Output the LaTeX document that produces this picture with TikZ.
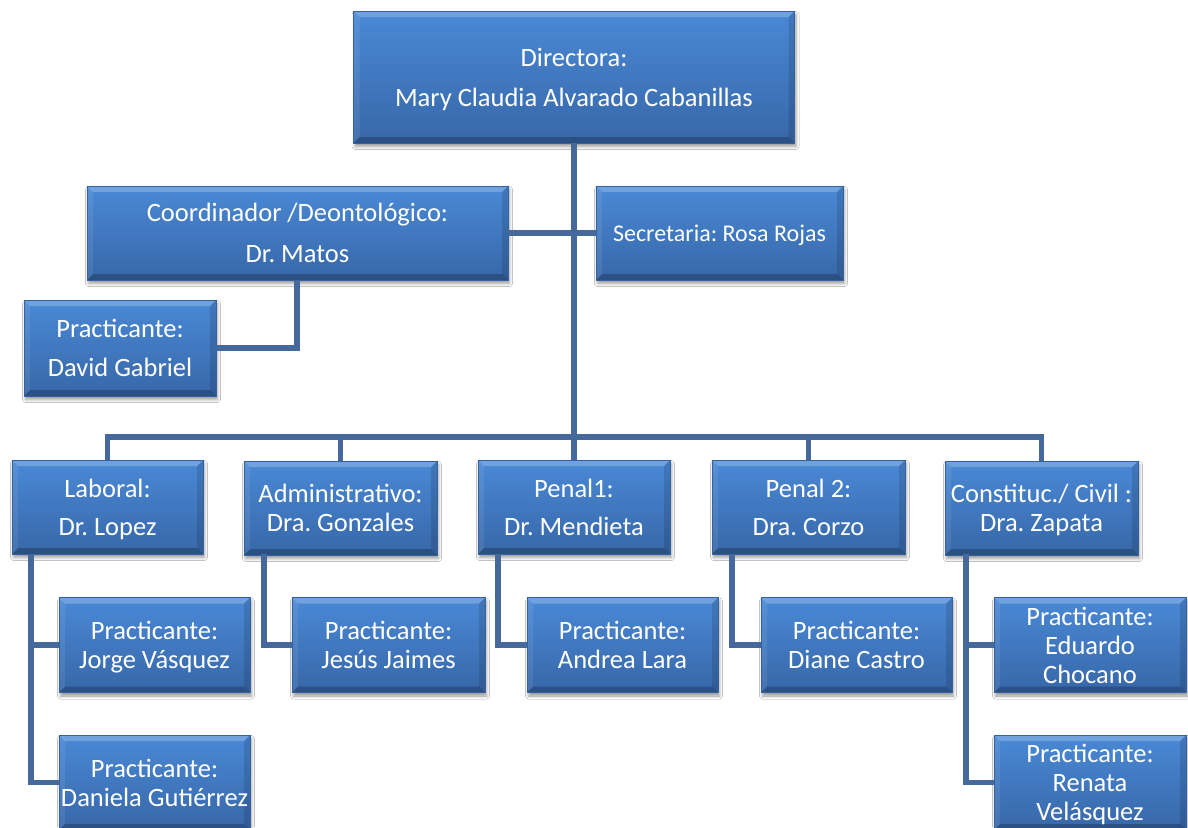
\documentclass[tikz,border=0pt]{standalone}
\usepackage{fontspec}
\setmainfont{Carlito}
\frenchspacing
\usetikzlibrary{shadows.blur,backgrounds}
\definecolor{boxtop}{HTML}{4A89D6}
\definecolor{boxbot}{HTML}{3767A8}
\definecolor{boxedge}{HTML}{34629E}
\definecolor{linec}{HTML}{45699C}
\tikzset{
  orgbox/.style={rectangle, inner sep=0pt, top color=boxtop, bottom color=boxbot,
    draw=boxedge, line width=0.6pt, text=white, align=center, text depth=0pt,
    blur shadow={shadow xshift=1.5pt, shadow yshift=-3.5pt, shadow blur radius=3pt, shadow opacity=40},
    path picture={
      \fill[white,opacity=.22] (path picture bounding box.north west) -- (path picture bounding box.north east)
        -- ([shift={(-6pt,-6pt)}]path picture bounding box.north east) -- ([shift={(6pt,-6pt)}]path picture bounding box.north west) -- cycle;
      \fill[black,opacity=.22] (path picture bounding box.south west) -- (path picture bounding box.south east)
        -- ([shift={(-6pt,6pt)}]path picture bounding box.south east) -- ([shift={(6pt,6pt)}]path picture bounding box.south west) -- cycle;
      \fill[white,opacity=.08] (path picture bounding box.north west) -- ([shift={(6pt,-6pt)}]path picture bounding box.north west)
        -- ([shift={(6pt,6pt)}]path picture bounding box.south west) -- (path picture bounding box.south west) -- cycle;
      \fill[black,opacity=.12] (path picture bounding box.north east) -- ([shift={(-6pt,-6pt)}]path picture bounding box.north east)
        -- ([shift={(-6pt,6pt)}]path picture bounding box.south east) -- (path picture bounding box.south east) -- cycle;
    }},
  widetext/.style={font=\fontsize{26.5}{39}\selectfont},
  tighttext/.style={font=\fontsize{26.5}{29}\selectfont},
  conn/.style={draw=linec, line width=5.5pt, line join=miter, line cap=butt}
}
\begin{document}
\begin{tikzpicture}[x=1pt,y=-1pt]
\fill[white] (0,0) rectangle (1188,827);
\useasboundingbox (0,0) rectangle (1188,827);
% top level
\node[orgbox, font=\fontsize{26.5}{40}\selectfont, minimum width=441pt, minimum height=132pt] (dir) at (574,77) {Directora:\\Mary Claudia Alvarado Cabanillas};
\node[orgbox, font=\fontsize{26.5}{41}\selectfont, minimum width=421pt, minimum height=94pt] (coord) at (297.5,233) {Coordinador /Deontológico:\\Dr. Matos};
\node[orgbox, font=\fontsize{24}{29}\selectfont, minimum width=247pt, minimum height=94pt] (sec) at (719.5,233) {Secretaria: Rosa Rojas};
\node[orgbox, widetext, minimum width=192pt, minimum height=96pt] (david) at (120,348) {Practicante:\\David Gabriel};
% departments
\node[orgbox, font=\fontsize{26.5}{38}\selectfont, minimum width=191pt, minimum height=94pt] (lab) at (107.5,507) {Laboral:\\Dr. Lopez};
\node[orgbox, tighttext, minimum width=193pt, minimum height=94pt] (adm) at (340.5,508) {Administrativo:\\Dra. Gonzales};
\node[orgbox, font=\fontsize{26.5}{38}\selectfont, minimum width=192pt, minimum height=94pt] (pen1) at (574,507) {Penal1:\\Dr. Mendieta};
\node[orgbox, font=\fontsize{26.5}{38}\selectfont, minimum width=193pt, minimum height=94pt] (pen2) at (808.5,507) {Penal 2:\\Dra. Corzo};
\node[orgbox, tighttext, minimum width=193pt, minimum height=94pt] (con) at (1041.5,508) {Constituc./ Civil :\\Dra. Zapata};
% practicantes
\node[orgbox, tighttext, minimum width=191pt, minimum height=95pt] (pj) at (154.5,645) {Practicante:\\Jorge Vásquez};
\node[orgbox, tighttext, minimum width=193pt, minimum height=95pt] (pjj) at (388.5,645) {Practicante:\\Jesús Jaimes};
\node[orgbox, tighttext, minimum width=191pt, minimum height=95pt] (pa) at (622.5,645) {Practicante:\\Andrea Lara};
\node[orgbox, tighttext, minimum width=191pt, minimum height=95pt] (pd) at (856.5,645) {Practicante:\\Diane Castro};
\node[orgbox, tighttext, minimum width=192pt, minimum height=95pt] (pe) at (1090,645) {Practicante:\\Eduardo\\Chocano};
\node[orgbox, tighttext, minimum width=191pt, minimum height=95pt] (pdg) at (154.5,782.5) {Practicante:\\Daniela Gutiérrez};
\node[orgbox, tighttext, minimum width=192pt, minimum height=95pt] (pr) at (1090,782.5) {Practicante:\\Renata\\Velásquez};
% coordinates
\coordinate (bus) at (574,437);
\coordinate (labL) at (31,554);
\coordinate (admL) at (264,554);
\coordinate (pen1L) at (498,554);
\coordinate (pen2L) at (732,554);
\coordinate (conL) at (966,554);
\coordinate (davidT) at (297,280);
% connectors
\draw[conn] (dir.south) -- (pen1.north);
\draw[conn] (coord.east) -- (sec.west);
\draw[conn] (davidT) |- (david.east);
\draw[conn] (lab.north) -- (lab.north |- bus) -- (con.north |- bus) -- (con.north);
\draw[conn] (adm.north) -- (adm.north |- bus);
\draw[conn] (pen2.north) -- (pen2.north |- bus);
\draw[conn] (labL) |- (pdg.west);
\draw[conn] (labL |- pj.west) -- (pj.west);
\draw[conn] (admL) |- (pjj.west);
\draw[conn] (pen1L) |- (pa.west);
\draw[conn] (pen2L) |- (pd.west);
\draw[conn] (conL) |- (pr.west);
\draw[conn] (conL |- pe.west) -- (pe.west);
\end{tikzpicture}
\end{document}
